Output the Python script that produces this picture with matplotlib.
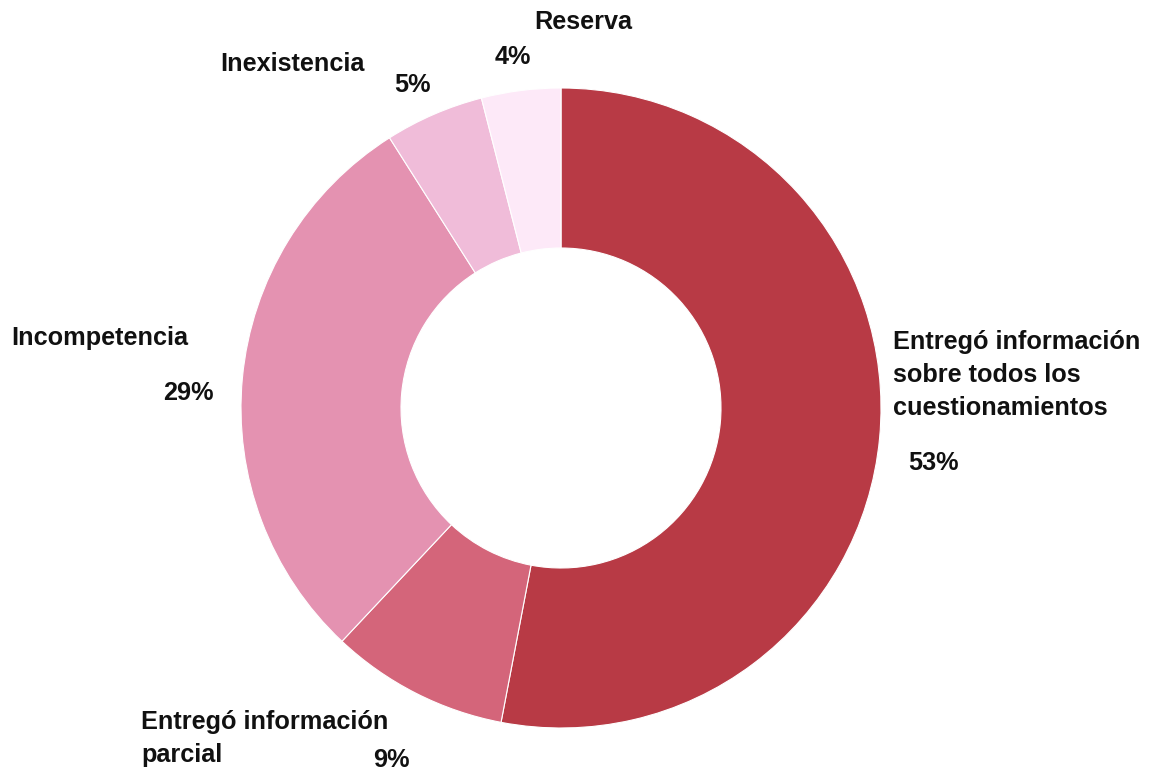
import matplotlib
matplotlib.use('Agg')
from matplotlib import pyplot as plt

# datos del gráfico
labels = ['Entregó información\nsobre todos los\ncuestionamientos',
          'Entregó información\nparcial',
          'Incompetencia',
          'Inexistencia',
          'Reserva']
values = [53, 9, 29, 5, 4]
colors = ['#B83A45', '#D4657A', '#E492B1', '#F0BCD9', '#FDE9F8']

plt.rcParams['font.family'] = ['Liberation Sans', 'DejaVu Sans']

W, H = 1153, 770
fig = plt.figure(figsize=(W / 100, H / 100), dpi=100)

cx, cy, r = 561, 408, 320
ax = fig.add_axes([(cx - r) / W, (H - cy - r) / H, 2 * r / W, 2 * r / H])
ax.pie(values, colors=colors, startangle=90, counterclock=False, radius=1,
       wedgeprops=dict(width=0.5, edgecolor='white', linewidth=0.8))
ax.set_xlim(-1, 1)
ax.set_ylim(-1, 1)
ax.set_aspect('equal')
ax.axis('off')

LINE = 33  # px entre líneas

def px_text(x, y, s):
    # y = centro de la primera línea; cada línea va por separado
    for i, line in enumerate(s.split('\n')):
        fig.text(x / W, 1 - (y + i * LINE) / H, line, ha='left', va='center',
                 fontsize=18.2, fontweight='bold', color='#111111')

# etiquetas de categoría
px_text(893, 342, labels[0])
px_text(141, 722, labels[1])
px_text(11, 338, labels[2])
px_text(220, 64, labels[3])
px_text(534, 22, labels[4])

# porcentajes
px_text(908, 463, f'{values[0]}%')
px_text(373, 760, f'{values[1]}%')
px_text(163, 393, f'{values[2]}%')
px_text(394, 85, f'{values[3]}%')
px_text(495, 57, f'{values[4]}%')

fig.savefig('out.png', dpi=100)
